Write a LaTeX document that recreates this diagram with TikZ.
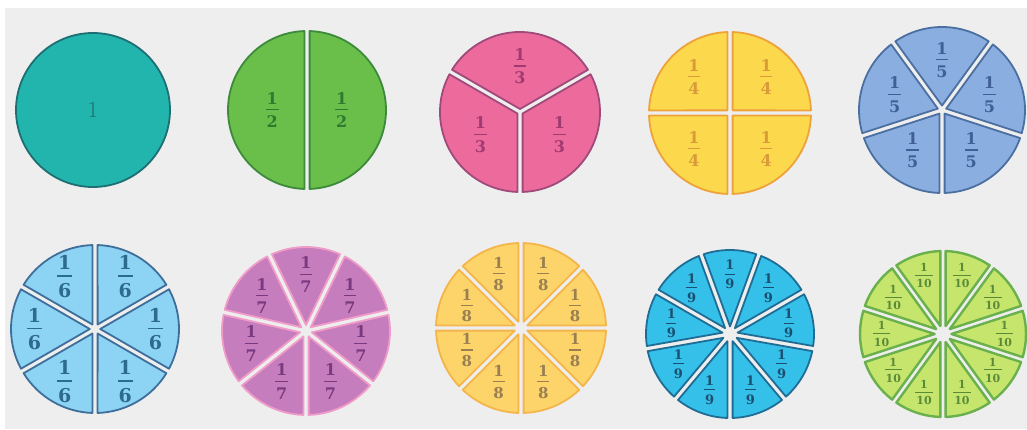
\documentclass[tikz,border=0pt]{standalone}
\usepackage{fontspec}
\newfontfamily\labfont{DejaVu Serif}

\definecolor{bg}{HTML}{EEEEEE}
\definecolor{fillA}{HTML}{22B5AD}\definecolor{lineA}{HTML}{1D6F73}\definecolor{textA}{HTML}{1F6E6E}
\definecolor{fillB}{HTML}{6ABF4B}\definecolor{lineB}{HTML}{3C8A3A}\definecolor{textB}{HTML}{2E7A30}
\definecolor{fillC}{HTML}{EC6A9C}\definecolor{lineC}{HTML}{A04A7A}\definecolor{textC}{HTML}{A03A70}
\definecolor{fillD}{HTML}{FBD84C}\definecolor{lineD}{HTML}{EEA23A}\definecolor{textD}{HTML}{D99A3A}
\definecolor{fillE}{HTML}{8AAEE0}\definecolor{lineE}{HTML}{4A6FA0}\definecolor{textE}{HTML}{3F5F95}
\definecolor{fillF}{HTML}{8DD3F3}\definecolor{lineF}{HTML}{3E6E9A}\definecolor{textF}{HTML}{2D6A90}
\definecolor{fillG}{HTML}{C67DBD}\definecolor{lineG}{HTML}{F09CC8}\definecolor{textG}{HTML}{7A3A80}
\definecolor{fillH}{HTML}{FCD46A}\definecolor{lineH}{HTML}{F4B54A}\definecolor{textH}{HTML}{9A8050}
\definecolor{fillI}{HTML}{35C0EA}\definecolor{lineI}{HTML}{1F6D94}\definecolor{textI}{HTML}{1B4F70}
\definecolor{fillJ}{HTML}{C6E56C}\definecolor{lineJ}{HTML}{6AB04C}\definecolor{textJ}{HTML}{5A8A38}

\tikzset{
  piece/.style={line width=1.8pt, line join=round},
  pie1/.style={fill=fillA, draw=lineA},  lab1/.style={text=textA},
  pie2/.style={fill=fillB, draw=lineB},  lab2/.style={text=textB},
  pie3/.style={fill=fillC, draw=lineC},  lab3/.style={text=textC},
  pie4/.style={fill=fillD, draw=lineD},  lab4/.style={text=textD},
  pie5/.style={fill=fillE, draw=lineE},  lab5/.style={text=textE},
  pie6/.style={fill=fillF, draw=lineF},  lab6/.style={text=textF},
  pie7/.style={fill=fillG, draw=lineG},  lab7/.style={text=textG},
  pie8/.style={fill=fillH, draw=lineH},  lab8/.style={text=textH},
  pie9/.style={fill=fillI, draw=lineI},  lab9/.style={text=textI},
  pie10/.style={fill=fillJ, draw=lineJ, line width=2.4pt}, lab10/.style={text=textJ},
}

\newlength{\fracw}
\newcommand{\pfrac}[1]{1\\[-0.62em]\settowidth{\fracw}{#1}\rule{1.15\fracw}{0.08em}\\[0.08em]#1}

\newcommand{\pieGap}{2.6}
% #1 pieces, #2,#3 centre, #4 radius, #5 first cut angle, #6 font size, #7 label distance
\newcommand{\fracpie}[7]{%
  \begin{scope}[shift={(#2,#3)}]
    \coordinate (c#1) at (0,0);
    \pgfmathsetmacro{\pieStep}{360/#1}
    \pgfmathsetmacro{\pieDelta}{asin(\pieGap/#4)}
    \pgfmathsetmacro{\pieTip}{\pieGap/sin(\pieStep/2)}
    \foreach \k in {1,...,#1}{
      \pgfmathsetmacro{\angA}{#5+(\k-1)*\pieStep+\pieDelta}
      \pgfmathsetmacro{\angB}{#5+\k*\pieStep-\pieDelta}
      \pgfmathsetmacro{\angM}{#5+(\k-0.5)*\pieStep}
      \draw[piece,pie#1] (\angM:\pieTip) -- (\angA:#4)
        arc[start angle=\angA, end angle=\angB, radius=#4] -- cycle;
      \node[lab#1,align=center,inner sep=0pt,
            font=\fontsize{#6}{#6}\selectfont\labfont\bfseries] (l#1-\k)
        at (\angM:#7*#4) {\pfrac{#1}};
    }
  \end{scope}}

\begin{document}
\begin{tikzpicture}[x=1pt,y=1pt,line cap=round,line join=round]
\useasboundingbox (0,0) rectangle (1027,429);
\fill[white] (0,0) rectangle (1027,429);
\fill[bg] (5,0) rectangle (1027,421);

% whole
\coordinate (c1) at (93,319);
\draw[piece,pie1] (c1) circle[radius=77];
\node[lab1,font=\fontsize{23}{23}\selectfont] (l1-1) at (c1) {1};

% top row
\fracpie{2}{307}{319}{79}{90}{16}{0.44}
\fracpie{3}{520}{317}{80}{30}{16}{0.57}
\fracpie{4}{730}{316}{81}{0}{16}{0.63}
\fracpie{5}{942}{319}{83}{54}{16}{0.6}

% bottom row
\fracpie{6}{95}{100}{84}{30}{19}{0.72}
\fracpie{7}{306}{98}{84}{12.857}{16}{0.67}
\fracpie{8}{521}{101}{85}{0}{15}{0.69}
\fracpie{9}{730}{95}{84}{30}{13}{0.71}
\fracpie{10}{943}{95}{83}{18}{11}{0.74}
\end{tikzpicture}
\end{document}
